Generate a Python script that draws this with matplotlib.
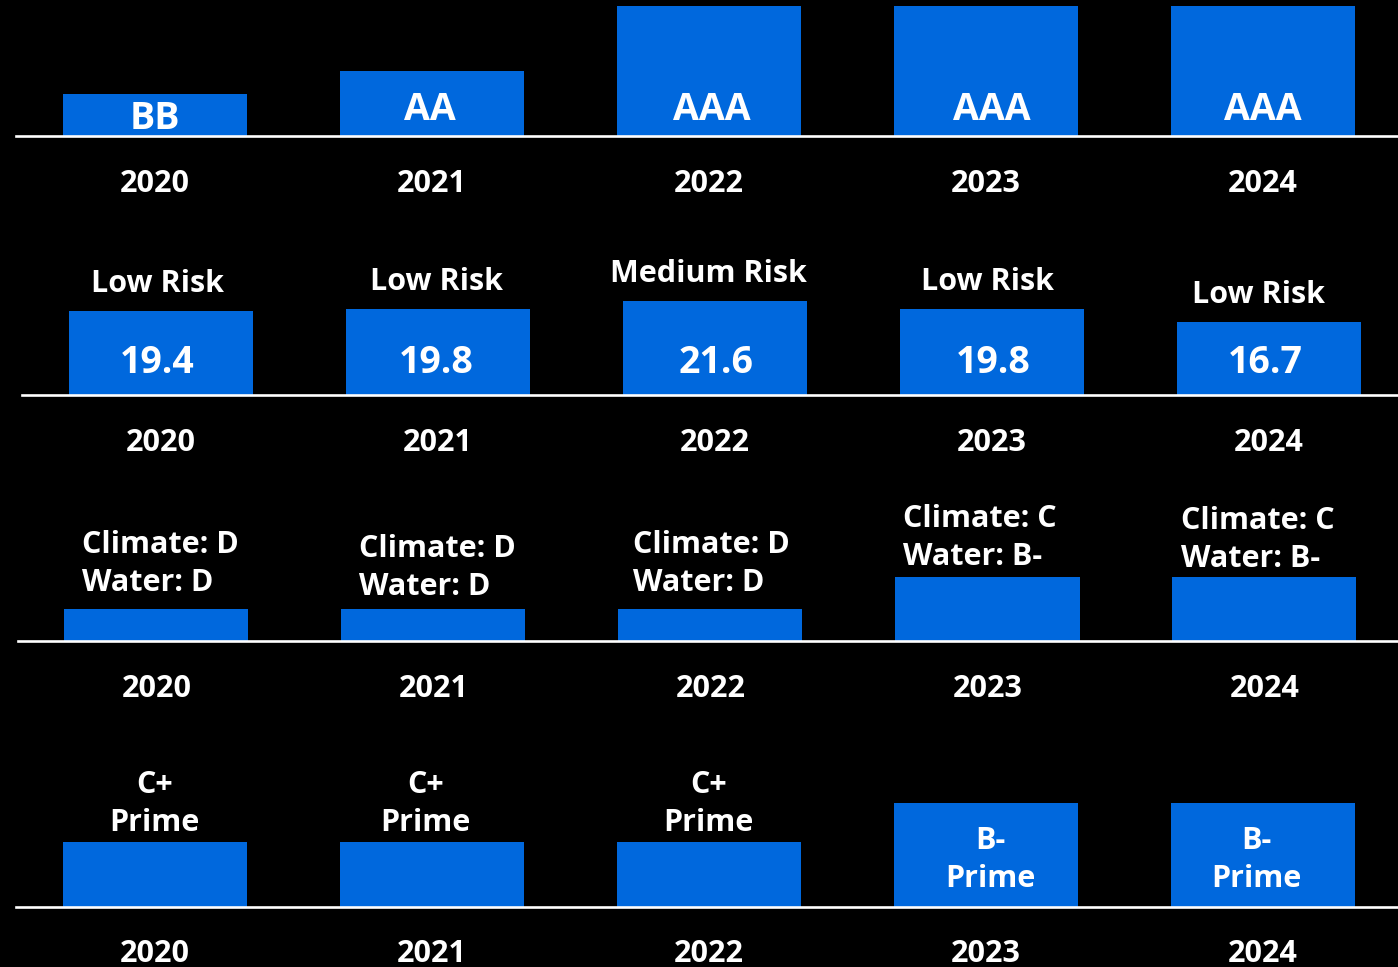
import matplotlib
matplotlib.use("Agg")
import matplotlib.pyplot as plt
from matplotlib.transforms import offset_copy

plt.rcParams['font.family'] = ['Open Sans', 'DejaVu Sans']

# ---- data ---------------------------------------------------------------
years = ["2020", "2021", "2022", "2023", "2024"]

# row 1: credit-style rating, bar height on a relative score
rating_labels = ["BB", "AA", "AAA", "AAA", "AAA"]
rating_score = [4.2, 6.5, 13.0, 13.0, 13.0]

# row 2: risk score
risk_values = [19.4, 19.8, 21.6, 19.8, 16.7]
risk_labels = ["Low Risk", "Low Risk", "Medium Risk", "Low Risk", "Low Risk"]

# row 3: climate / water grades
climate_grades = ["D", "D", "D", "C", "C"]
water_grades = ["D", "D", "D", "B-", "B-"]
cw_score = [3.2, 3.2, 3.2, 6.4, 6.4]

# row 4: overall grade
grade_labels = ["C+", "C+", "C+", "B-", "B-"]
grade_status = ["Prime", "Prime", "Prime", "Prime", "Prime"]
grade_score = [6.5, 6.5, 6.5, 10.4, 10.4]

# ---- layout -------------------------------------------------------------
W, H = 1398, 967
DPI = 100
BAR = "#0068DD"
WHITE = "white"
STEP = 277          # px between bar centres
FS_SMALL = 22
FS_BIG = 27
WEIGHT = "bold"
VFIX = -4           # nudge so glyphs sit visually centred
fig = plt.figure(figsize=(W / DPI, H / DPI), dpi=DPI, facecolor="black")


def make_axes(baseline_y, left_x, height_px, ymax):
    ax = fig.add_axes([left_x / W, 1 - baseline_y / H, 5 * STEP / W, height_px / H])
    ax.set_facecolor("none")
    ax.set_xlim(-0.5, 4.5)
    ax.set_ylim(0, ymax)
    for s in ("top", "right", "left"):
        ax.spines[s].set_visible(False)
    ax.spines["bottom"].set_color(WHITE)
    ax.spines["bottom"].set_linewidth(1.9)
    ax.set_xticks([])
    ax.set_yticks([])
    return ax


def year_labels(ax, gap=44):
    tr = offset_copy(ax.get_xaxis_transform(), fig=fig, x=0,
                     y=(-gap + VFIX) * 72 / DPI, units="points")
    for i, y in enumerate(years):
        ax.text(i, 0, y, transform=tr, ha="center", va="center",
                color=WHITE, fontsize=FS_SMALL, fontweight=WEIGHT)


def px_off(ax, dx=0, dy=0):
    return offset_copy(ax.transData, fig=fig, x=dx * 72 / DPI,
                       y=(dy + VFIX) * 72 / DPI, units="points")


x = list(range(5))
BW = 184 / STEP

# row 1
ax1 = make_axes(136, 16, 130, 13.0)
ax1.bar(x, rating_score, width=BW, color=BAR, zorder=1, clip_on=False)
r1_dx = [0, -2, 3, 6, 0]
for i, (lab, v) in enumerate(zip(rating_labels, rating_score)):
    ax1.text(i, min(v / 2, 3.0), lab, transform=px_off(ax1, r1_dx[i], 0),
             ha="center", va="center", color=WHITE,
             fontsize=FS_BIG, fontweight=WEIGHT)
year_labels(ax1)

# row 2
scale2 = 4.35
ax2 = make_axes(395, 22, 100, 100 / scale2)
ax2.bar(x, risk_values, width=BW, color=BAR, zorder=1)
r2_dx = [-3, -1, -6, -4, -10]
r2_vdx = [-3, -1, 2, 2, -3]
for i, (lab, v) in enumerate(zip(risk_labels, risk_values)):
    ax2.text(i, 36 / scale2, f"{v:.1f}", transform=px_off(ax2, r2_vdx[i], 0),
             ha="center", va="center", color=WHITE,
             fontsize=FS_BIG, fontweight=WEIGHT)
    ax2.text(i, v, lab, transform=px_off(ax2, r2_dx[i], 31), ha="center", va="center",
             color=WHITE, fontsize=FS_SMALL, fontweight=WEIGHT)
year_labels(ax2)

# row 3
ax3 = make_axes(641, 18, 70, 7.0)
ax3.bar(x, cw_score, width=BW, color=BAR, zorder=1)
cw_dx = [-74, -74, -77, -84, -83]
cw_dy = [49, 45, 49, 43, 41]
for i, (c, w, v) in enumerate(zip(climate_grades, water_grades, cw_score)):
    ax3.text(i, v, f"Climate: {c}\nWater: {w}", transform=px_off(ax3, cw_dx[i], cw_dy[i]),
             ha="left", va="center", color=WHITE, fontsize=FS_SMALL, fontweight=WEIGHT,
             linespacing=1.37)
year_labels(ax3)

# row 4
ax4 = make_axes(907, 16, 110, 11.0)
ax4.bar(x, grade_score, width=BW, color=BAR, zorder=1)
r4_dx = [0, -6, 0, 5, -6]
for i, (g, s, v) in enumerate(zip(grade_labels, grade_status, grade_score)):
    if v > 8:
        # label sits inside the taller bars
        ax4.text(i, v / 2, f"{g}\n{s}", transform=px_off(ax4, r4_dx[i], -1), ha="center",
                 va="center", color=WHITE, fontsize=FS_SMALL, fontweight=WEIGHT,
                 linespacing=1.35)
    else:
        ax4.text(i, v, f"{g}\n{s}", transform=px_off(ax4, r4_dx[i], 42), ha="center",
                 va="center", color=WHITE, fontsize=FS_SMALL, fontweight=WEIGHT,
                 linespacing=1.35)
year_labels(ax4, gap=43)

fig.savefig("out.png", dpi=DPI, facecolor="black")
